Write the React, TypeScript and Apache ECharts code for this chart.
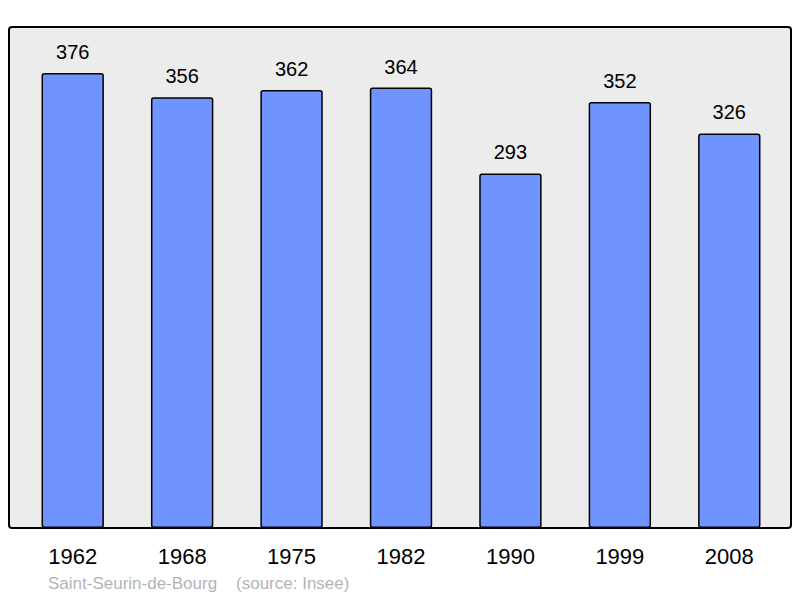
import React, { useEffect, useRef } from "react";
import * as echarts from "echarts";

const years = ["1962", "1968", "1975", "1982", "1990", "1999", "2008"];
const population = [376, 356, 362, 364, 293, 352, 326];
const footerText = "Saint-Seurin-de-Bourg    (source: Insee)";

export default function App() {
  const ref = useRef<HTMLDivElement>(null);
  useEffect(() => {
    if (!ref.current) return;
    const chart = echarts.init(ref.current, undefined, { renderer: "svg" });
    chart.setOption({
      animation: false,
      grid: { left: 18, right: 16, top: 27, bottom: 70 },
      graphic: [
        {
          type: "rect",
          z: -10,
          shape: { x: 9, y: 27, width: 782, height: 501, r: 3 },
          style: { fill: "#ececec", stroke: "#000", lineWidth: 2 },
          silent: true,
        },
        {
          type: "text",
          left: 48,
          top: 575,
          style: {
            text: footerText,
            fill: "#b4b4b4",
            fontSize: 17,
            fontFamily: "Liberation Sans, Arial, sans-serif",
          },
        },
      ],
      xAxis: {
        type: "category",
        data: years,
        axisLine: { show: false },
        axisTick: { show: false },
        axisLabel: {
          color: "#000",
          fontSize: 22,
          margin: 17,
          fontFamily: "Liberation Sans, Arial, sans-serif",
        },
      },
      yAxis: {
        type: "value",
        min: 0,
        max: 414,
        show: false,
        splitLine: { show: false },
      },
      series: [
        {
          type: "bar",
          data: population,
          barWidth: "57%",
          itemStyle: {
            color: "#7094ff",
            borderColor: "#000",
            borderWidth: 1.5,
            borderRadius: 2,
          },
          label: {
            show: true,
            position: "top",
            distance: 11,
            color: "#000",
            fontSize: 20,
            fontFamily: "Liberation Sans, Arial, sans-serif",
          },
        },
      ],
    });
    return () => chart.dispose();
  }, []);
  return <div ref={ref} style={{ width: 800, height: 598, position: "absolute", left: 0, top: 0 }} />;
}
